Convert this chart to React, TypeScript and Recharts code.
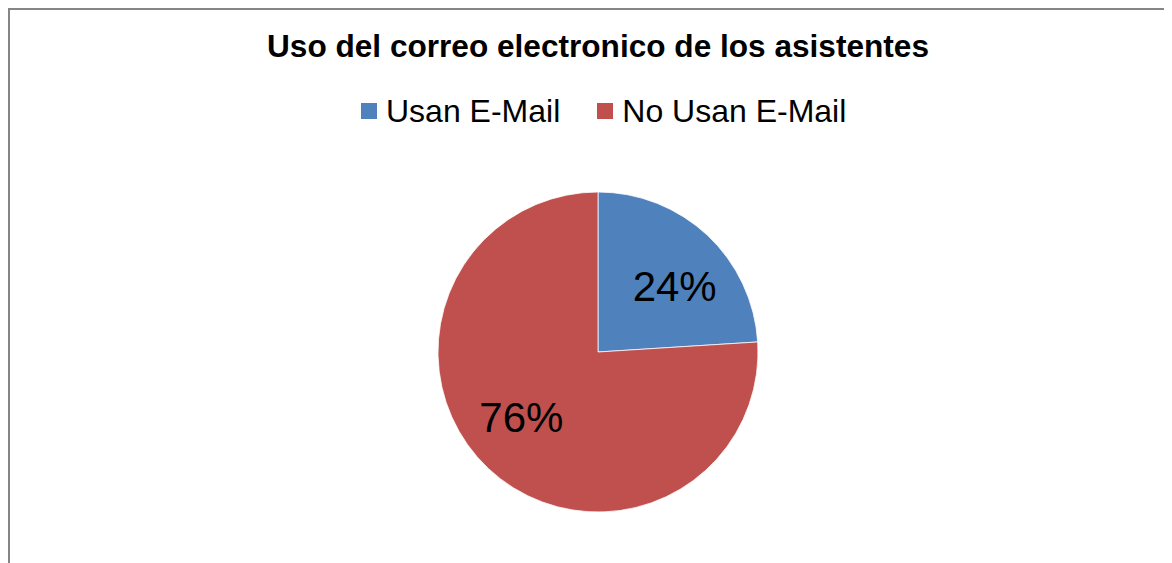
import React from "react";
import { PieChart, Pie, Cell } from "recharts";

const TITLE = "Uso del correo electronico de los asistentes";
const CATEGORIES = ["Usan E-Mail", "No Usan E-Mail"];
const VALUES = [24, 76];
const COLORS = ["#4F81BD", "#C0504D"];

const FONT = '"Liberation Sans", Arial, sans-serif';
const RAD = Math.PI / 180;

const data = CATEGORIES.map((name, i) => ({ name, value: VALUES[i] }));

// Excel-like label placement: a bit wider than tall inside the slice
function renderLabel(props: any) {
  const { cx, cy, midAngle, outerRadius, percent } = props;
  const x = cx + outerRadius * 0.7 * Math.cos(-midAngle * RAD);
  const y = cy + outerRadius * 0.56 * Math.sin(-midAngle * RAD);
  return (
    <text
      x={x}
      y={y}
      fill="#000"
      textAnchor="middle"
      dominantBaseline="central"
      style={{ fontFamily: FONT, fontSize: 42 }}
    >
      {`${Math.round(percent * 100)}%`}
    </text>
  );
}

export default function App() {
  return (
    <div
      style={{
        position: "relative",
        width: 1190,
        height: 570,
        borderLeft: "2px solid #858585",
        borderTop: "2px solid #858585",
        background: "#fff",
        fontFamily: FONT,
      }}
    >
      <div
        style={{
          position: "absolute",
          top: 21,
          left: 0,
          width: 1176,
          textAlign: "center",
          fontWeight: "bold",
          fontSize: 31.6,
          lineHeight: 1,
          color: "#000",
          whiteSpace: "nowrap",
        }}
      >
        {TITLE}
      </div>
      <div
        style={{
          position: "absolute",
          top: 85,
          left: 351,
          display: "flex",
          alignItems: "center",
          gap: 37,
          fontSize: 32,
          lineHeight: 1,
          color: "#000",
          whiteSpace: "nowrap",
        }}
      >
        {data.map((d, i) => (
          <div key={d.name} style={{ display: "flex", alignItems: "center" }}>
            <div style={{ width: 16, height: 16, background: COLORS[i], marginRight: 9 }} />
            <span>{d.name}</span>
          </div>
        ))}
      </div>
      <div style={{ position: "absolute", top: 0, left: 0 }}>
        <PieChart width={1160} height={553} margin={{ top: 0, right: 0, bottom: 0, left: 0 }}>
          <Pie
            data={data}
            dataKey="value"
            nameKey="name"
            cx={588}
            cy={342}
            outerRadius={160}
            startAngle={90}
            endAngle={-270}
            label={renderLabel}
            labelLine={false}
            stroke="#ffffff"
            strokeWidth={0.75}
            isAnimationActive={false}
          >
            {data.map((d, i) => (
              <Cell key={d.name} fill={COLORS[i]} />
            ))}
          </Pie>
        </PieChart>
      </div>
    </div>
  );
}
